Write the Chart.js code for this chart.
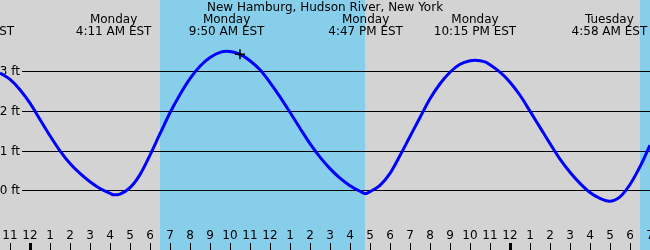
<!DOCTYPE html>
<html>
<head>
<meta charset="utf-8">
<script src="https://cdn.jsdelivr.net/npm/chart.js@4/dist/chart.umd.min.js"></script>
<style>
  html, body { margin: 0; padding: 0; background: #d3d3d3; }
  canvas { display: block; }
</style>
</head>
<body>
<canvas id="tideChart" width="650" height="250"></canvas>
<script>
// hours counted from Monday 00:00 EST
const tideHours = [-1.5, -1, -0.5, 0, 0.5, 1, 1.5, 2, 2.5, 3, 3.5, 4, 4.18, 4.5, 5, 5.5, 6, 6.5, 7, 7.5, 8, 8.5, 9, 9.5, 9.83, 10.5, 11, 11.5, 12, 12.5, 13, 13.5, 14, 14.5, 15, 15.5, 16, 16.5, 16.78, 17, 17.5, 18, 18.5, 19, 19.5, 20, 20.5, 21, 21.5, 22, 22.25, 22.75, 23, 23.5, 24, 24.5, 25, 25.5, 26, 26.5, 27, 27.5, 28, 28.5, 28.97, 29.5, 30, 30.5, 31]
const tideFeet = [2.96, 2.80, 2.54, 2.20, 1.79, 1.38, 1.0, 0.68, 0.43, 0.22, 0.05, -0.07, -0.11, -0.09, 0.07, 0.40, 0.89, 1.43, 1.96, 2.42, 2.82, 3.13, 3.35, 3.48, 3.51, 3.43, 3.27, 3.04, 2.72, 2.36, 1.97, 1.57, 1.18, 0.84, 0.55, 0.31, 0.12, -0.02, -0.08, -0.03, 0.13, 0.43, 0.88, 1.36, 1.84, 2.31, 2.69, 2.98, 3.18, 3.27, 3.28, 3.24, 3.17, 2.98, 2.73, 2.40, 2.0, 1.59, 1.18, 0.79, 0.46, 0.18, -0.05, -0.20, -0.27, -0.16, 0.15, 0.60, 1.14]

const eventHours = [-2.85, 4.18, 9.83, 16.78, 22.25, 28.97]
const eventDays = ['Sunday', 'Monday', 'Monday', 'Monday', 'Monday', 'Tuesday']
const eventTimes = ['10:09 PM EST', '4:11 AM EST', '9:50 AM EST', '4:47 PM EST', '10:15 PM EST', '4:58 AM EST']

const daylightStart = [6.5, 30.5]
const daylightEnd = [16.75, 34]

const hourTicks = [-1, 0, 1, 2, 3, 4, 5, 6, 7, 8, 9, 10, 11, 12, 13, 14, 15, 16, 17, 18, 19, 20, 21, 22, 23, 24, 25, 26, 27, 28, 29, 30, 31]
const hourLabels = ['11', '12', '1', '2', '3', '4', '5', '6', '7', '8', '9', '10', '11', '12', '1', '2', '3', '4', '5', '6', '7', '8', '9', '10', '11', '12', '1', '2', '3', '4', '5', '6', '7']
const midnightTicks = [0, 24]

const feetTicks = [0, 1, 2, 3]
const feetLabels = ['0 ft', '1 ft', '2 ft', '3 ft']

const nowHour = [10.5]
const nowFeet = [3.43]

const title = 'New Hamburg, Hudson River, New York'

const colors = {
  night: '#d3d3d3',
  day: '#87ceeb',
  tide: '#0000ff',
  ink: '#000000'
}

const FONT = '12px "DejaVu Sans", sans-serif'

const tideBackdrop = {
  id: 'tideBackdrop',
  beforeDatasetsDraw(chart) {
    const { ctx, width, height, scales: { x, y } } = chart
    ctx.save()
    ctx.fillStyle = colors.night
    ctx.fillRect(0, 0, width, height)

    // daylight bands
    ctx.fillStyle = colors.day
    daylightStart.forEach((start, i) => {
      const x0 = Math.round(x.getPixelForValue(start))
      const x1 = Math.round(x.getPixelForValue(daylightEnd[i]))
      ctx.fillRect(x0, 0, x1 - x0, height)
    })

    ctx.font = FONT
    ctx.fillStyle = colors.ink
    ctx.strokeStyle = colors.ink

    // feet lines + labels
    feetTicks.forEach((ft, i) => {
      const py = Math.round(y.getPixelForValue(ft)) + 0.5
      ctx.lineWidth = 1
      ctx.beginPath()
      ctx.moveTo(22, py)
      ctx.lineTo(width, py)
      ctx.stroke()
      ctx.textAlign = 'right'
      ctx.textBaseline = 'middle'
      ctx.fillText(feetLabels[i], 20, py)
    })

    // hour labels and ticks
    hourTicks.forEach((h, i) => {
      const px = Math.round(x.getPixelForValue(h))
      ctx.textAlign = 'center'
      ctx.textBaseline = 'middle'
      ctx.fillText(hourLabels[i], px, 236)
      const w = midnightTicks.includes(h) ? 3 : 1
      ctx.fillRect(px - Math.floor(w / 2), 243, w, height - 243)
    })

    // title and tide events
    ctx.textAlign = 'center'
    ctx.fillText(title, 325, 8)
    eventHours.forEach((h, i) => {
      const px = x.getPixelForValue(h)
      ctx.fillText(eventDays[i], px, 20)
      ctx.fillText(eventTimes[i], px, 32)
    })
    ctx.restore()
  }
}

const ctx = document.getElementById('tideChart').getContext('2d')

const tideChart = new Chart(ctx, {
  type: 'line',
  data: {
    datasets: [
      {
        label: 'now',
        data: nowHour.map((h, i) => ({ x: h, y: nowFeet[i] })),
        showLine: false,
        pointStyle: 'cross',
        pointRadius: 5,
        borderColor: colors.ink,
        borderWidth: 1.5,
        order: 0
      },
      {
        label: 'tide',
        data: tideHours.map((h, i) => ({ x: h, y: tideFeet[i] })),
        borderColor: colors.tide,
        borderWidth: 3,
        pointRadius: 0,
        cubicInterpolationMode: 'monotone',
        fill: false,
        order: 1
      }
    ]
  },
  options: {
    responsive: false,
    animation: false,
    devicePixelRatio: 1,
    layout: { padding: 0, autoPadding: false },
    plugins: {
      legend: { display: false },
      tooltip: { enabled: false }
    },
    scales: {
      x: { type: 'linear', display: false, min: -1.5, max: 31 },
      y: { display: false, min: -1.5, max: 4.8 }
    }
  },
  plugins: [tideBackdrop]
})
</script>
</body>
</html>
